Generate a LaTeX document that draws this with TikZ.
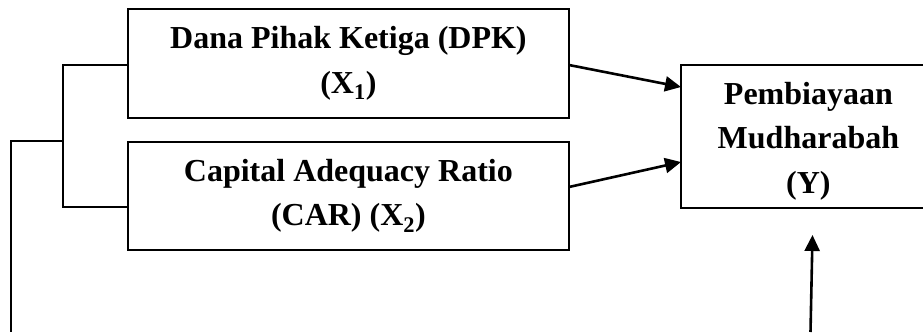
\documentclass[tikz,border=0pt]{standalone}
\usepackage{fontspec}
\setmainfont{Liberation Serif}
\usetikzlibrary{arrows.meta}
\tikzset{
  vartext/.style={inner sep=0pt, align=center, font=\fontsize{32}{44.5}\selectfont\bfseries},
  varbox/.style={vartext, draw, line width=1.8pt, anchor=north west},
  link/.style={line width=1.8pt},
  arr/.style={line width=2.6pt, -{Triangle[length=16pt,width=15pt]}}
}
\begin{document}
\begin{tikzpicture}[x=1pt,y=-1pt]
\path[use as bounding box] (0,0) rectangle (923,332);
\node[varbox, minimum width=441pt, minimum height=109pt] (box1) at (127,8)
  {Dana Pihak Ketiga (DPK)\\(X\textsubscript{1})};
\node[varbox, minimum width=441pt, minimum height=108pt] (box2) at (127,141)
  {Capital Adequacy Ratio\\(CAR) (X\textsubscript{2})};
\node[varbox, draw=none, minimum width=253pt, minimum height=141pt] (boxY) at (681,65) {};
\node[vartext] (ytext) at ([yshift=-4.5pt]boxY.center) {Pembiayaan\\Mudharabah\\(Y)};
\draw[link] (boxY.north west) ++(242,0) -- (boxY.north west) -- (boxY.south west) -- ++(242,0);
\coordinate (bt) at (63,65);
\coordinate (bb) at (63,207);
\coordinate (bm) at (63,141);
\coordinate (lo) at (11,141);
\coordinate (lend) at (11,332);
\coordinate (ustart) at (810.5,332);
\coordinate (utip) at (812.5,235);
\draw[link] (box1.west |- bt) -- (bt) -- (bb) -- (box2.west |- bb);
\draw[link] (bm) -- (lo) -- (lend);
\draw[arr] (569,65) -- (boxY.west |- 0,87);
\draw[arr] (569,187) -- (boxY.west |- 0,162);
\draw[arr] (ustart) -- (utip);
\end{tikzpicture}
\end{document}
